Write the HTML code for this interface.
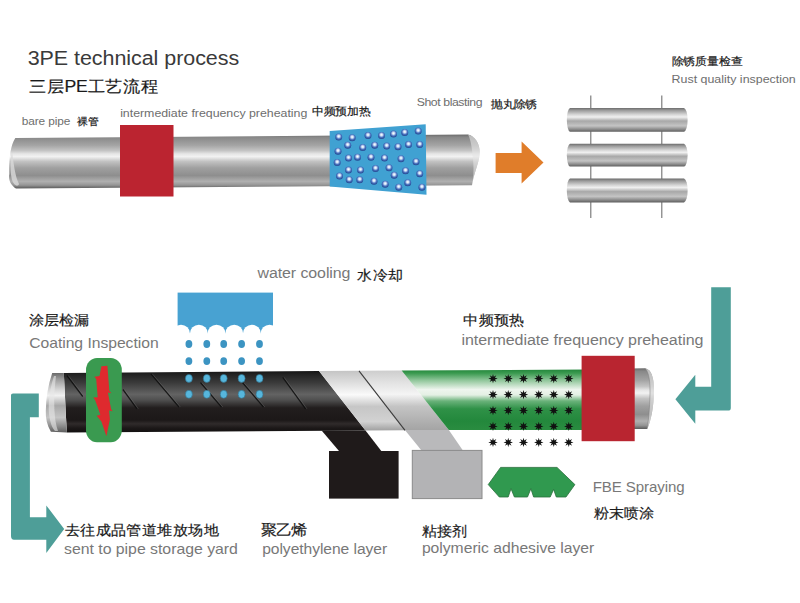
<!DOCTYPE html>
<html><head><meta charset="utf-8">
<style>
html,body{margin:0;padding:0;background:#fff;}
body{width:800px;height:603px;position:relative;overflow:hidden;font-family:"Liberation Sans",sans-serif;}
svg{position:absolute;left:0;top:0;}
.t{position:absolute;white-space:nowrap;line-height:1;}
.en{color:#777;}
.zh{color:#111;font-weight:normal;-webkit-text-stroke:0.2px #1a1a1a;}
</style></head><body>
<svg width="800" height="603" viewBox="0 0 800 603">
<defs>
  <linearGradient id="gpipe" x1="0" y1="0" x2="0" y2="1">
    <stop offset="0" stop-color="#6a6a6a"/>
    <stop offset="0.05" stop-color="#888888"/>
    <stop offset="0.2" stop-color="#a4a4a4"/>
    <stop offset="0.3" stop-color="#c4c4c4"/>
    <stop offset="0.36" stop-color="#e6e6e6"/>
    <stop offset="0.41" stop-color="#f2f2f2"/>
    <stop offset="0.5" stop-color="#c2c2c2"/>
    <stop offset="0.62" stop-color="#a0a0a0"/>
    <stop offset="0.76" stop-color="#8e8e8e"/>
    <stop offset="0.87" stop-color="#b0b0b0"/>
    <stop offset="0.94" stop-color="#959595"/>
    <stop offset="1" stop-color="#5a5a5a"/>
  </linearGradient>
  <linearGradient id="gsmall" x1="0" y1="0" x2="0" y2="1">
    <stop offset="0" stop-color="#6a6a6a"/>
    <stop offset="0.1" stop-color="#9a9a9a"/>
    <stop offset="0.28" stop-color="#d6d6d6"/>
    <stop offset="0.38" stop-color="#f0f0f0"/>
    <stop offset="0.55" stop-color="#a8a8a8"/>
    <stop offset="0.75" stop-color="#c4c4c4"/>
    <stop offset="0.9" stop-color="#8a8a8a"/>
    <stop offset="1" stop-color="#5e5e5e"/>
  </linearGradient>
  <linearGradient id="gblack" x1="0" y1="0" x2="0" y2="1">
    <stop offset="0" stop-color="#151515"/>
    <stop offset="0.06" stop-color="#232323"/>
    <stop offset="0.2" stop-color="#3c3c3c"/>
    <stop offset="0.38" stop-color="#636363"/>
    <stop offset="0.47" stop-color="#505050"/>
    <stop offset="0.6" stop-color="#221e1e"/>
    <stop offset="0.8" stop-color="#1c1818"/>
    <stop offset="0.86" stop-color="#302b2b"/>
    <stop offset="0.93" stop-color="#1c1818"/>
    <stop offset="1" stop-color="#121010"/>
  </linearGradient>
  <linearGradient id="gsilver" x1="0" y1="0" x2="0" y2="1">
    <stop offset="0" stop-color="#c4c4c4"/>
    <stop offset="0.2" stop-color="#dedede"/>
    <stop offset="0.4" stop-color="#fafafa"/>
    <stop offset="0.6" stop-color="#c6c6c6"/>
    <stop offset="0.85" stop-color="#d2d2d2"/>
    <stop offset="1" stop-color="#a0a0a0"/>
  </linearGradient>
  <linearGradient id="ggreen" x1="0" y1="0" x2="0" y2="1">
    <stop offset="0" stop-color="#24873c"/>
    <stop offset="0.06" stop-color="#3b9a50"/>
    <stop offset="0.18" stop-color="#92c79c"/>
    <stop offset="0.33" stop-color="#eef5ee"/>
    <stop offset="0.42" stop-color="#e4f0e4"/>
    <stop offset="0.52" stop-color="#6ab27a"/>
    <stop offset="0.65" stop-color="#2f9147"/>
    <stop offset="0.85" stop-color="#23883c"/>
    <stop offset="1" stop-color="#2a8c40"/>
  </linearGradient>
  <linearGradient id="gadh" x1="0" y1="0" x2="0" y2="1">
    <stop offset="0" stop-color="#cdcdcd"/>
    <stop offset="0.2" stop-color="#e2e2e2"/>
    <stop offset="0.4" stop-color="#f4f4f4"/>
    <stop offset="0.6" stop-color="#c4c4c4"/>
    <stop offset="0.8" stop-color="#b4b4b4"/>
    <stop offset="1" stop-color="#a4a4a4"/>
  </linearGradient>
  <radialGradient id="gball" cx="0.5" cy="0.4" r="0.58">
    <stop offset="0" stop-color="#ffffff"/>
    <stop offset="0.28" stop-color="#cfe0f5"/>
    <stop offset="0.65" stop-color="#4a72c0"/>
    <stop offset="1" stop-color="#24468f"/>
  </radialGradient>
  <symbol id="ball" overflow="visible"><circle cx="0" cy="0" r="3.5" fill="url(#gball)"/></symbol>
  <symbol id="star" overflow="visible"><path d="M0.00,-4.70 L-0.80,-1.94 L-3.32,-3.32 L-1.94,-0.80 L-4.70,-0.00 L-1.94,0.80 L-3.32,3.32 L-0.80,1.94 L-0.00,4.70 L0.80,1.94 L3.32,3.32 L1.94,0.80 L4.70,0.00 L1.94,-0.80 L3.32,-3.32 L0.80,-1.94Z" fill="#111"/></symbol>
  <symbol id="drop" overflow="visible"><ellipse cx="0" cy="0" rx="3.4" ry="3.9" fill="#3c94c2"/></symbol>
  <symbol id="drop2" overflow="visible"><ellipse cx="0" cy="0" rx="3.5" ry="4" fill="#57b6dc" stroke="#2f6f8a" stroke-width="0.6"/></symbol>
</defs>

<!-- TOP BARE PIPE -->
<path d="M15.3,138 L468,134.5 C476,136 481,146 479.5,156 C478,165 474,173 472,185.3 L16,188.4 C12,186 8,181 9.3,174 C9,160 10,146 15.3,138 Z" fill="url(#gpipe)"/>
<path d="M12,152 C10,160 10,172 12,180 C14,186 18,187 19,184 C15,176 14,165 12,152 Z" fill="#d9d9d9" opacity="0.8"/>
<path d="M468,134.5 C476,136 481,146 479.5,156 C478,165 474,173 472,185.3 C474,175 474,165 472,150 C471,143 470,138 468,134.5 Z" fill="#e4e4e4" opacity="0.6"/>
<rect x="120" y="125" width="53.5" height="71.5" fill="#bb2430"/>
<polygon points="329.7,131 425.7,124.2 426.5,194.7 329.7,186.5" fill="#40a1d2"/>
<g><use href="#ball" x="338.7" y="137.0"/><use href="#ball" x="352.2" y="137.7"/><use href="#ball" x="368.0" y="135.5"/><use href="#ball" x="381.5" y="135.5"/><use href="#ball" x="393.5" y="134.0"/><use href="#ball" x="404.7" y="132.5"/><use href="#ball" x="418.2" y="131.0"/><use href="#ball" x="347.7" y="145.2"/><use href="#ball" x="362.7" y="147.5"/><use href="#ball" x="374.7" y="145.2"/><use href="#ball" x="386.7" y="146.0"/><use href="#ball" x="398.0" y="146.7"/><use href="#ball" x="408.5" y="144.5"/><use href="#ball" x="419.7" y="144.5"/><use href="#ball" x="338.0" y="151.2"/><use href="#ball" x="348.5" y="158.0"/><use href="#ball" x="357.5" y="157.2"/><use href="#ball" x="371.0" y="157.2"/><use href="#ball" x="384.5" y="158.0"/><use href="#ball" x="401.0" y="158.7"/><use href="#ball" x="416.0" y="161.7"/><use href="#ball" x="337.2" y="162.5"/><use href="#ball" x="348.5" y="170.0"/><use href="#ball" x="360.5" y="170.0"/><use href="#ball" x="375.5" y="168.5"/><use href="#ball" x="389.0" y="167.7"/><use href="#ball" x="405.5" y="170.7"/><use href="#ball" x="419.7" y="173.7"/><use href="#ball" x="339.5" y="176.0"/><use href="#ball" x="349.2" y="179.7"/><use href="#ball" x="359.7" y="179.7"/><use href="#ball" x="374.0" y="181.2"/><use href="#ball" x="385.2" y="184.2"/><use href="#ball" x="394.2" y="175.2"/><use href="#ball" x="398.7" y="187.2"/><use href="#ball" x="407.7" y="182.7"/><use href="#ball" x="421.9" y="187.2"/></g>
<polygon points="495.6,153 521.6,153 521.6,141.5 543.5,162.5 521.6,183.5 521.6,173 495.6,173" fill="#e07d2a"/>

<!-- rust inspection -->
<line x1="590.8" y1="95.6" x2="590.8" y2="218" stroke="#707070" stroke-width="1.1"/>
<line x1="661.8" y1="95.6" x2="661.8" y2="218" stroke="#707070" stroke-width="1.1"/>
<path d="M570,107.9 L684,107.9 A4,12 0 0 1 684,131.8 L570,131.8 A3.5,12 0 0 1 570,107.9 Z" fill="url(#gsmall)"/>
<path d="M570,143.7 L684,143.7 A4,11.5 0 0 1 684,166.6 L570,166.6 A3.5,11.5 0 0 1 570,143.7 Z" fill="url(#gsmall)"/>
<path d="M570,178.5 L684,178.5 A4,12 0 0 1 684,202.4 L570,202.4 A3.5,12 0 0 1 570,178.5 Z" fill="url(#gsmall)"/>

<!-- LOWER PIPE -->
<path d="M63.8,373 L319,371 L365.5,430.6 L67,432.4 C66,420 65,395 63.8,373 Z" fill="url(#gblack)"/>
<g stroke="#0e0e0e" stroke-width="1.3" opacity="0.85" fill="none"><line x1="67.0" y1="375.5" x2="82.8" y2="396.5"/><line x1="123.0" y1="389.5" x2="137.0" y2="408.8"/><line x1="151.0" y1="373.8" x2="179.0" y2="407.0"/><line x1="200.5" y1="382.5" x2="221.5" y2="407.0"/><line x1="242.5" y1="382.5" x2="263.5" y2="407.0"/><line x1="282.8" y1="377.3" x2="305.6" y2="408.8"/></g><g stroke="#8a8a8a" stroke-width="0.8" opacity="0.35" fill="none"><line x1="68.3" y1="375.5" x2="84.1" y2="396.5"/><line x1="124.3" y1="389.5" x2="138.3" y2="408.8"/><line x1="152.3" y1="373.8" x2="180.3" y2="407.0"/><line x1="201.8" y1="382.5" x2="222.8" y2="407.0"/><line x1="243.8" y1="382.5" x2="264.8" y2="407.0"/><line x1="284.1" y1="377.3" x2="306.9" y2="408.8"/></g>
<polygon points="319,371 359,370.8 405,430.3 365.5,430.6" fill="url(#gsilver)"/>
<polygon points="359,370.8 401.6,370.4 448.8,430 405,430.3" fill="url(#gadh)"/>
<line x1="359" y1="370.8" x2="405" y2="430.3" stroke="#3a3a3a" stroke-width="1.1"/>
<polygon points="401.6,370.4 590,369.6 590,430 448.8,430" fill="url(#ggreen)"/>
<!-- right silver end -->
<path d="M630,368.5 L645,368.2 C651,369 654,377 654,390 C654,405 651,422 647,429 L630,429 Z" fill="url(#gpipe)"/>
<path d="M645,368.2 C651,369 654,377 654,390 C654,405 651,422 647,429 C649,418 650,402 650,390 C650,378 648,371 645,368.2 Z" fill="#d8d8d8" opacity="0.7"/>
<path d="M645,368.2 C648,371 650,378 650,390 C650,402 649,418 647,429" fill="none" stroke="#7a7a7a" stroke-width="0.7" opacity="0.7"/>
<!-- left silver end -->
<path d="M52.2,373 L63.8,373 C65,395 66,420 67,432.4 L50.9,431.8 C47,425 45.5,418 45.8,411 C46,398 48,385 52.2,373 Z" fill="url(#gsmall)"/>
<path d="M54,376 C50,388 48,402 49,414 C50,422 52,428 55,431 L58,431 C54,420 53,400 56,376 Z" fill="#e8e8e8" opacity="0.6"/>
<!-- black tape down -->
<polygon points="321.6,430.4 365.5,430.4 381.3,451 339,451" fill="#1f1a1a"/>
<rect x="329" y="451" width="69.6" height="47.6" fill="#1f1a1a"/>
<!-- gray tape down -->
<polygon points="404.9,430.1 448.8,430.1 462.9,450.4 421.5,450.4" fill="#b9b9bb"/>
<rect x="412.3" y="450.4" width="69.7" height="48.2" fill="#b3b3b5" stroke="#8a8a8a" stroke-width="1"/>

<!-- red band lower -->
<rect x="581.6" y="355.8" width="53.1" height="85.4" fill="#b92530"/>
<g><use href="#star" x="493.00" y="378.60"/><use href="#star" x="508.25" y="378.60"/><use href="#star" x="523.50" y="378.60"/><use href="#star" x="538.75" y="378.60"/><use href="#star" x="553.75" y="378.60"/><use href="#star" x="568.75" y="378.60"/><use href="#star" x="493.00" y="394.60"/><use href="#star" x="508.25" y="394.60"/><use href="#star" x="523.50" y="394.60"/><use href="#star" x="538.75" y="394.60"/><use href="#star" x="553.75" y="394.60"/><use href="#star" x="568.75" y="394.60"/><use href="#star" x="493.00" y="410.50"/><use href="#star" x="508.25" y="410.50"/><use href="#star" x="523.50" y="410.50"/><use href="#star" x="538.75" y="410.50"/><use href="#star" x="553.75" y="410.50"/><use href="#star" x="568.75" y="410.50"/><use href="#star" x="493.00" y="426.40"/><use href="#star" x="508.25" y="426.40"/><use href="#star" x="523.50" y="426.40"/><use href="#star" x="538.75" y="426.40"/><use href="#star" x="553.75" y="426.40"/><use href="#star" x="568.75" y="426.40"/><use href="#star" x="493.00" y="442.40"/><use href="#star" x="508.25" y="442.40"/><use href="#star" x="523.50" y="442.40"/><use href="#star" x="538.75" y="442.40"/><use href="#star" x="553.75" y="442.40"/><use href="#star" x="568.75" y="442.40"/></g>

<!-- FBE shape -->
<path d="M500.6,467.4 L557,467.4 L574.9,484.6 L566,497 L556.3,497 L553.6,489.4 L550.2,497 L533.6,497 L530.9,488.7 L527.5,497 L514.4,497 L511,488.7 L508.2,497 L499.3,497 L488.25,484.6 Z" fill="#30994f" stroke="#2a6e3c" stroke-width="0.8" stroke-linejoin="round"/>

<!-- water cooling -->
<rect x="177.6" y="292.6" width="95.4" height="41" fill="#48a2d2"/>
<g fill="#fff"><circle cx="181.0" cy="333.7" r="9"/><circle cx="198.9" cy="333.7" r="9"/><circle cx="216.5" cy="333.7" r="9"/><circle cx="234.2" cy="333.7" r="9"/><circle cx="251.9" cy="333.7" r="9"/><circle cx="269.6" cy="333.7" r="9"/></g>
<g><use href="#drop" x="188.9" y="344.0"/><use href="#drop" x="206.8" y="344.0"/><use href="#drop" x="223.7" y="344.0"/><use href="#drop" x="241.6" y="344.0"/><use href="#drop" x="259.5" y="344.0"/><use href="#drop" x="188.9" y="361.1"/><use href="#drop" x="206.8" y="361.1"/><use href="#drop" x="223.7" y="361.1"/><use href="#drop" x="241.6" y="361.1"/><use href="#drop" x="259.5" y="361.1"/><use href="#drop2" x="188.9" y="378.4"/><use href="#drop2" x="206.8" y="378.4"/><use href="#drop2" x="223.7" y="378.4"/><use href="#drop2" x="241.6" y="378.4"/><use href="#drop2" x="259.5" y="378.4"/><use href="#drop2" x="188.9" y="394.3"/><use href="#drop2" x="206.8" y="394.3"/><use href="#drop2" x="223.7" y="394.3"/><use href="#drop2" x="241.6" y="394.3"/><use href="#drop2" x="259.5" y="394.3"/></g>

<!-- coating inspection ring -->
<rect x="86" y="358" width="35.8" height="84.3" rx="11" ry="12" fill="#3a9a50"/>
<path d="M101.4,366.2 L107.4,365.7 L109.3,390.8 L111.4,393.2 L107.9,392.6 L111.1,409.0 L112.6,411.3 L109.0,410.5 L109.9,419.2 L106.4,436.3 L101.4,421.4 L96.7,415.7 L100.4,414.7 L95.0,399.8 L93.2,397.4 L97.7,397.2 L96.2,378.9 L94.4,376.8 L99.5,375.9Z" fill="#de2a2e"/>

<!-- teal arrows -->
<path d="M11,395 Q11,393.4 13,393.4 L38.8,393.4 L38.8,417.3 L29.9,417.3 L29.9,517.3 L46.3,517.3 L46.3,505.4 L64.2,529 L46.3,553 L46.3,539.7 L14,539.7 Q11,539.7 11,536 Z" fill="#4e9e98"/>
<path d="M711.2,287.2 L730.8,287.2 L730.8,408 Q730.8,410.6 728,410.6 L695.3,410.6 L695.3,423.8 L675.4,399.2 L695.3,374.8 L695.3,386.7 L711.2,386.7 Z" fill="#4e9e98"/>
</svg>

<div class="t en" style="left:27.64px;top:48.45px;font-size:21.49px;letter-spacing:-0.05px;color:#3a3a3a;transform-origin:0 12.68px;transform:scaleY(0.930)">3PE technical process</div>
<div class="t zh" style="left:29.17px;top:78.35px;font-size:17.66px;letter-spacing:-0.29px;color:#1a1a1a;transform-origin:0 8.65px;transform:scaleY(0.930)">三层PE工艺流程</div>
<div class="t en" style="left:21.67px;top:116.11px;font-size:11.88px;letter-spacing:-0.09px;color:#6e6e6e;transform-origin:0 7.01px;transform:scaleY(0.930)">bare pipe</div>
<div class="t zh" style="-webkit-text-stroke:0.22px #1a1a1a;left:77.14px;top:115.93px;font-size:11.14px;letter-spacing:-0.50px;color:#1a1a1a;transform-origin:0 5.57px;transform:scaleY(0.930)">裸管</div>
<div class="t en" style="left:120.13px;top:106.57px;font-size:12.39px;letter-spacing:-0.02px;color:#6e6e6e;transform-origin:0 7.31px;transform:scaleY(0.930)">intermediate frequency preheating</div>
<div class="t zh" style="-webkit-text-stroke:0.22px #1a1a1a;left:311.78px;top:105.37px;font-size:12.02px;letter-spacing:-0.25px;color:#1a1a1a;transform-origin:0 6.25px;transform:scaleY(0.930)">中频预加热</div>
<div class="t en" style="left:416.69px;top:96.26px;font-size:12.28px;letter-spacing:-0.42px;color:#6e6e6e;transform-origin:0 7.24px;transform:scaleY(0.930)">Shot blasting</div>
<div class="t zh" style="-webkit-text-stroke:0.22px #1a1a1a;left:491.38px;top:97.99px;font-size:11.68px;letter-spacing:-0.67px;color:#1a1a1a;transform-origin:0 6.01px;transform:scaleY(0.930)">抛丸除锈</div>
<div class="t zh" style="-webkit-text-stroke:0.22px #1a1a1a;left:671.70px;top:55.42px;font-size:12.02px;letter-spacing:-0.20px;color:#1a1a1a;transform-origin:0 6.13px;transform:scaleY(0.930)">除锈质量检查</div>
<div class="t en" style="left:671.61px;top:73.23px;font-size:12.41px;letter-spacing:0.00px;color:#6e6e6e;transform-origin:0 7.32px;transform:scaleY(0.930)">Rust quality inspection</div>
<div class="t en" style="left:257.50px;top:264.59px;font-size:15.95px;letter-spacing:-0.08px;color:#787878;transform-origin:0 9.41px;transform:scaleY(0.930)">water cooling</div>
<div class="t zh" style="left:357.19px;top:266.56px;font-size:15.57px;letter-spacing:-0.50px;color:#1a1a1a;transform-origin:0 7.94px;transform:scaleY(0.930)">水冷却</div>
<div class="t zh" style="left:28.99px;top:312.32px;font-size:15.50px;letter-spacing:-0.83px;color:#1a1a1a;transform-origin:0 7.83px;transform:scaleY(0.930)">涂层检漏</div>
<div class="t en" style="left:29.21px;top:334.98px;font-size:15.70px;letter-spacing:-0.03px;color:#787878;transform-origin:0 9.27px;transform:scaleY(0.930)">Coating Inspection</div>
<div class="t zh" style="left:463.17px;top:311.67px;font-size:15.54px;letter-spacing:-0.58px;color:#1a1a1a;transform-origin:0 8.08px;transform:scaleY(0.930)">中频预热</div>
<div class="t en" style="left:461.38px;top:331.30px;font-size:16.02px;letter-spacing:-0.03px;color:#787878;transform-origin:0 9.45px;transform:scaleY(0.930)">intermediate frequency preheating</div>
<div class="t en" style="left:592.69px;top:479.43px;font-size:15.08px;letter-spacing:-0.09px;color:#787878;transform-origin:0 8.90px;transform:scaleY(0.930)">FBE Spraying</div>
<div class="t zh" style="left:593.95px;top:505.10px;font-size:15.24px;letter-spacing:0.00px;color:#1a1a1a;transform-origin:0 7.85px;transform:scaleY(0.930)">粉末喷涂</div>
<div class="t zh" style="left:64.69px;top:522.02px;font-size:15.40px;letter-spacing:0.44px;color:#1a1a1a;transform-origin:0 7.93px;transform:scaleY(0.930)">去往成品管道堆放场地</div>
<div class="t en" style="left:64.02px;top:541.25px;font-size:15.85px;letter-spacing:-0.02px;color:#787878;transform-origin:0 9.35px;transform:scaleY(0.930)">sent to pipe storage yard</div>
<div class="t zh" style="left:261.03px;top:522.15px;font-size:15.70px;letter-spacing:-1.00px;color:#1a1a1a;transform-origin:0 7.85px;transform:scaleY(0.930)">聚乙烯</div>
<div class="t en" style="left:262.21px;top:540.78px;font-size:15.63px;letter-spacing:-0.06px;color:#787878;transform-origin:0 9.22px;transform:scaleY(0.930)">polyethylene layer</div>
<div class="t zh" style="left:422.10px;top:522.70px;font-size:15.50px;letter-spacing:-0.88px;color:#1a1a1a;transform-origin:0 7.67px;transform:scaleY(0.930)">粘接剂</div>
<div class="t en" style="left:421.90px;top:540.48px;font-size:15.71px;letter-spacing:-0.02px;color:#787878;transform-origin:0 9.27px;transform:scaleY(0.930)">polymeric adhesive layer</div>
</body></html>
